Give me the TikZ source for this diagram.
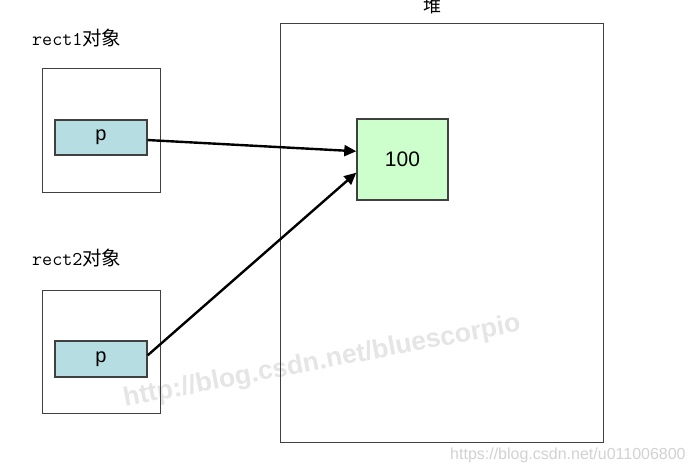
\documentclass[tikz,border=0pt]{standalone}
\usepackage{fontspec}
\setmainfont{Liberation Sans}
\newfontfamily\cjk{Noto Sans CJK SC}
\newfontfamily\monof{Latin Modern Mono}
\usetikzlibrary{arrows.meta,calc}
\definecolor{pfill}{HTML}{B6DDE1}
\definecolor{vfill}{HTML}{CCFFCC}
\definecolor{edge}{HTML}{404040}
\tikzset{
  outerbox/.style={draw=edge, line width=1pt, inner sep=0pt},
  ptr/.style={draw=edge, line width=1.4pt, fill=pfill, inner sep=0pt, minimum width=92pt, font=\fontsize{20}{20}\selectfont},
  valbox/.style={draw=edge, line width=1.4pt, fill=vfill, inner sep=0pt, minimum width=91pt, minimum height=81pt, font=\fontsize{21}{21}\selectfont},
  lbl/.style={inner sep=0pt, anchor=west, font=\fontsize{19.5}{19.5}\selectfont},
  link/.style={line width=2.4pt, -{Triangle[length=12pt,width=11pt]}, black},
}
\begin{document}
\begin{tikzpicture}[x=1pt,y=-1pt]
\useasboundingbox[fill=white] (0,0) rectangle (692,471);
% watermarks
\node[rotate=10.8, text=gray!20, font=\bfseries\fontsize{26.5}{26.5}\selectfont, inner sep=0pt] (wm1) at (322,362) {http://blog.csdn.net/bluescorpio};
\node[text=gray!35, font=\fontsize{16}{16}\selectfont, inner sep=0pt, anchor=west] (wm2) at (450,455) {https://blog.csdn.net/u011006800};
% labels
\node[lbl] (l1) at (32,38) {\monof rect1\cjk 对象};
\node[lbl] (l2) at (32,258) {\monof rect2\cjk 对象};
\node[inner sep=0pt, font=\cjk\fontsize{18}{18}\selectfont] (lh) at (432,6) {堆};
% boxes
\node[outerbox, minimum width=118pt, minimum height=124pt] (o1) at (101,130) {};
\node[outerbox, minimum width=118pt, minimum height=123pt] (o2) at (101,351.5) {};
\node[outerbox, minimum width=323pt, minimum height=419pt] (heap) at (441.5,232.5) {};
\node[ptr, minimum height=35pt] (p1) at (101,137.5) {p};
\node[ptr, minimum height=36pt] (p2) at (101,359) {p};
\node[valbox] (v) at (402.5,159.5) {100};
% arrows
\draw[link] ($(p1.north east)!0.57!(p1.south east)$) -- ($(v.north west)!0.4!(v.south west)$);
\draw[link] ($(p2.north east)!0.4!(p2.south east)$) -- ($(v.north west)!0.66!(v.south west)$);
\end{tikzpicture}
\end{document}
